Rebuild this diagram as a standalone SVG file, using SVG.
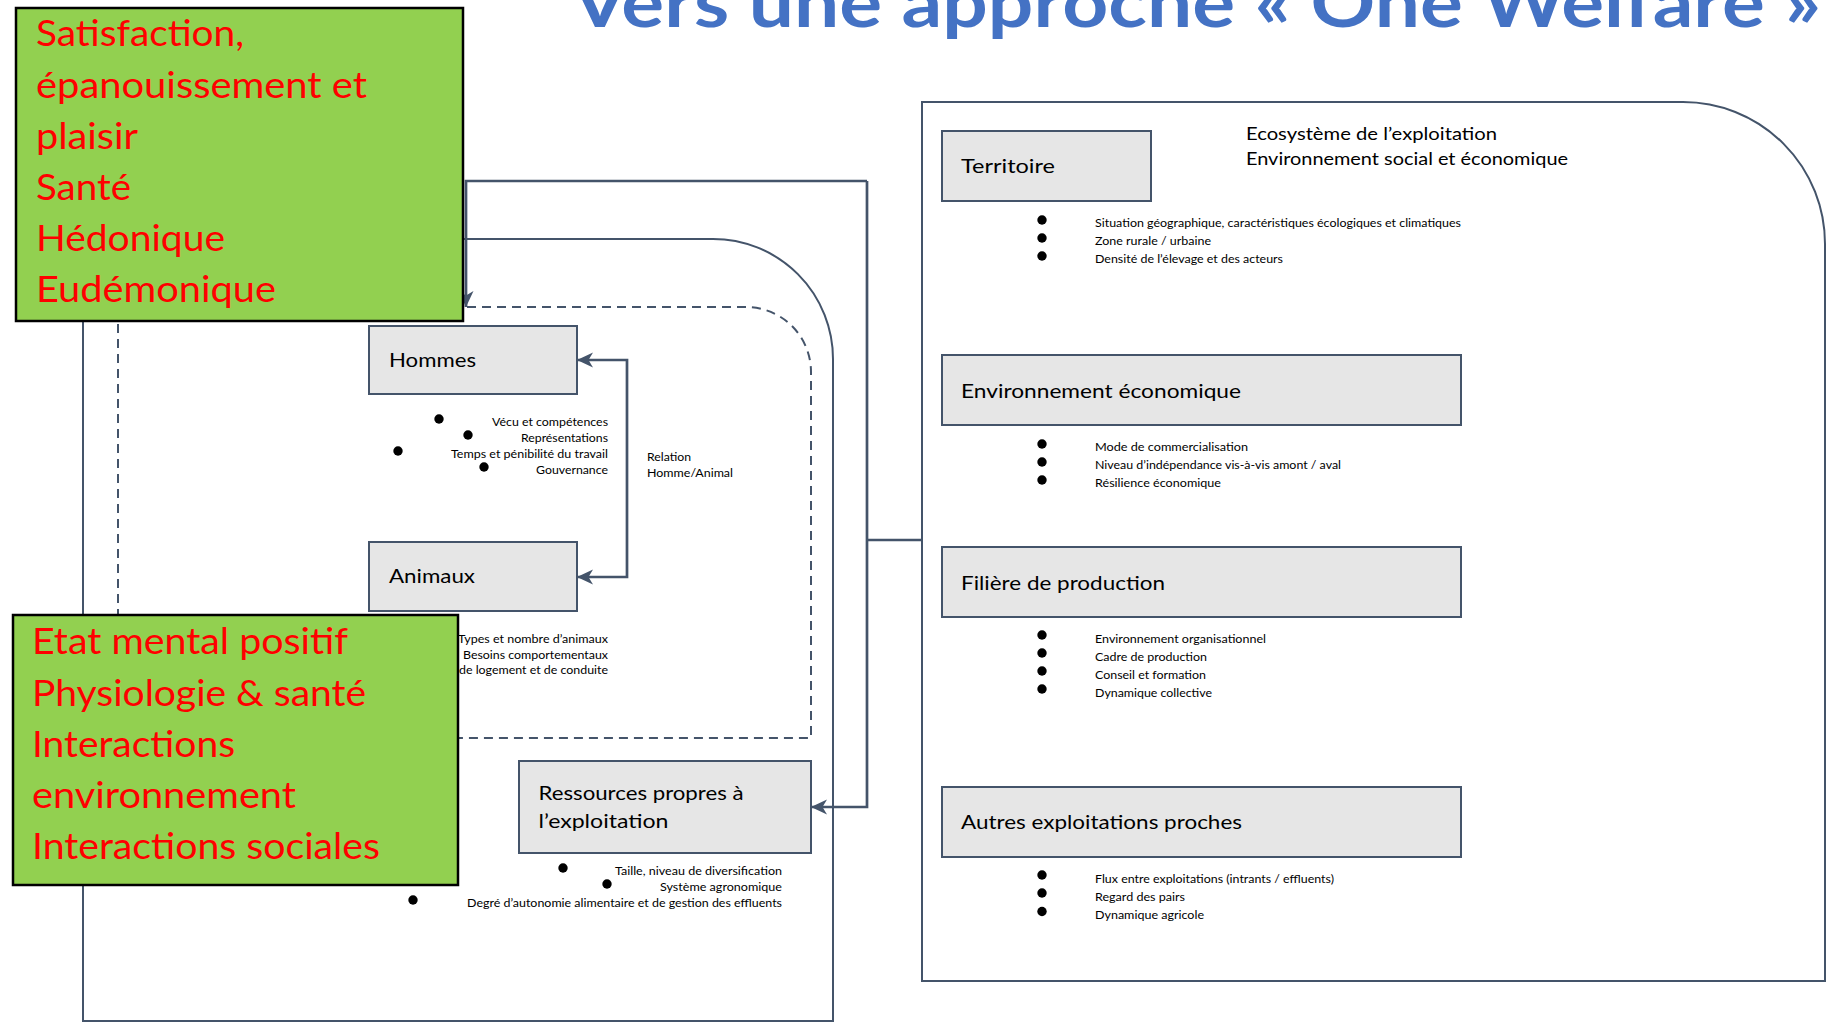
<svg xmlns="http://www.w3.org/2000/svg" width="1830" height="1024" viewBox="0 0 1830 1024">
<style>
text{font-family:Lato,"Open Sans","Liberation Sans",sans-serif;fill:#000}
.title{font-weight:bold;font-size:68px;fill:#4472C4}
.green{fill:#92D050;stroke:#000;stroke-width:2.5}
.gt{font-size:36px;fill:#FF0000}
.box{fill:#E6E6E6;stroke:#44546A;stroke-width:2}
.lbl{font-size:20px}
.mid{font-size:17px}
.sm{font-size:11.5px}
.frame{fill:none;stroke:#44546A;stroke-width:2}
.dash{fill:none;stroke:#44546A;stroke-width:2;stroke-dasharray:9 6}
.conn{fill:none;stroke:#44546A;stroke-width:2.7}
.dot{fill:#000}
</style>
<defs>
<marker id="arr" viewBox="0 -8 16 16" refX="16" refY="0" markerWidth="16" markerHeight="16" markerUnits="userSpaceOnUse" orient="auto-start-reverse">
<path d="M0,-7.5 L16,0 L0,7.5 L4.5,0 Z" fill="#44546A"/>
</marker>
</defs>

<text class="title" x="572" y="27" textLength="1249" lengthAdjust="spacingAndGlyphs">Vers une approche « One Welfare »</text>

<g id="frame-exploitation">
<path class="frame" d="M83,1021 V239 H713 A120,120 0 0 1 833,359 V1021 Z"/>
</g>
<g id="frame-relation">
<path class="dash" d="M118,738 V307 H746 A65,65 0 0 1 811,372 V738 Z"/>
</g>
<g id="frame-ecosysteme">
<path class="frame" d="M922,981 V102 H1683 A142,142 0 0 1 1825,244 V981 Z"/>
<text class="mid" x="1246" y="140" textLength="251" lengthAdjust="spacingAndGlyphs">Ecosystème de  l’exploitation</text>
<text class="mid" x="1246" y="165" textLength="322" lengthAdjust="spacingAndGlyphs">Environnement  social et économique</text>
</g>

<g id="connectors">
<path class="conn" d="M867,181 H466 V307" marker-end="url(#arr)"/>
<path class="conn" d="M867,181 V807 H811" marker-end="url(#arr)"/>
<path class="conn" d="M867,540 H922"/>
<path class="conn" d="M577,360 H627 V577 H577" marker-start="url(#arr)" marker-end="url(#arr)"/>
<text class="sm" x="647" y="461" textLength="44" lengthAdjust="spacingAndGlyphs">Relation</text>
<text class="sm" x="647" y="477" textLength="86" lengthAdjust="spacingAndGlyphs">Homme/Animal</text>
</g>

<g id="hommes">
<rect class="box" x="369" y="326" width="208" height="68"/>
<text class="lbl" x="389" y="367" textLength="87" lengthAdjust="spacingAndGlyphs">Hommes</text>
<circle class="dot" cx="439" cy="419" r="4.7"/>
<circle class="dot" cx="468" cy="435" r="4.7"/>
<circle class="dot" cx="398" cy="451" r="4.7"/>
<circle class="dot" cx="484" cy="467" r="4.7"/>
<text class="sm" x="492" y="425.5" textLength="116" lengthAdjust="spacingAndGlyphs">Vécu et compétences</text>
<text class="sm" x="521" y="441.5" textLength="87" lengthAdjust="spacingAndGlyphs">Représentations</text>
<text class="sm" x="451" y="457.5" textLength="157" lengthAdjust="spacingAndGlyphs">Temps et pénibilité du travail</text>
<text class="sm" x="536" y="473.5" textLength="72" lengthAdjust="spacingAndGlyphs">Gouvernance</text>
</g>

<g id="animaux">
<rect class="box" x="369" y="542" width="208" height="69"/>
<text class="lbl" x="389" y="583" textLength="86" lengthAdjust="spacingAndGlyphs">Animaux</text>
<text class="sm" x="458" y="642.5" textLength="150" lengthAdjust="spacingAndGlyphs">Types et nombre d’animaux</text>
<text class="sm" x="463" y="658.5" textLength="145" lengthAdjust="spacingAndGlyphs">Besoins comportementaux</text>
<text class="sm" x="459" y="674" textLength="149" lengthAdjust="spacingAndGlyphs">de logement et de conduite</text>
</g>

<g id="ressources">
<rect class="box" x="519" y="761" width="292" height="92"/>
<text class="lbl" x="538.5" y="800" textLength="205" lengthAdjust="spacingAndGlyphs">Ressources propres à</text>
<text class="lbl" x="538.5" y="828" textLength="130" lengthAdjust="spacingAndGlyphs">l’exploitation</text>
<circle class="dot" cx="563" cy="868" r="4.7"/>
<circle class="dot" cx="607" cy="884" r="4.7"/>
<circle class="dot" cx="413" cy="900" r="4.7"/>
<text class="sm" x="615" y="874.5" textLength="167" lengthAdjust="spacingAndGlyphs">Taille, niveau de diversification</text>
<text class="sm" x="660" y="890.5" textLength="122" lengthAdjust="spacingAndGlyphs">Système agronomique</text>
<text class="sm" x="467" y="906.5" textLength="315" lengthAdjust="spacingAndGlyphs">Degré d’autonomie alimentaire et de gestion des effluents</text>
</g>

<g id="territoire">
<rect class="box" x="942" y="131" width="209" height="70"/>
<text class="lbl" x="961" y="173" textLength="94" lengthAdjust="spacingAndGlyphs">Territoire</text>
<circle class="dot" cx="1042" cy="220" r="4.7"/>
<circle class="dot" cx="1042" cy="238" r="4.7"/>
<circle class="dot" cx="1042" cy="256" r="4.7"/>
<text class="sm" x="1095" y="226.5" textLength="366" lengthAdjust="spacingAndGlyphs">Situation géographique, caractéristiques écologiques et climatiques</text>
<text class="sm" x="1095" y="245" textLength="116" lengthAdjust="spacingAndGlyphs">Zone rurale / urbaine</text>
<text class="sm" x="1095" y="262.5" textLength="188" lengthAdjust="spacingAndGlyphs">Densité de l’élevage et des acteurs</text>
</g>

<g id="environnement-economique">
<rect class="box" x="942" y="355" width="519" height="70"/>
<text class="lbl" x="961" y="398" textLength="280" lengthAdjust="spacingAndGlyphs">Environnement économique</text>
<circle class="dot" cx="1042" cy="444" r="4.7"/>
<circle class="dot" cx="1042" cy="462" r="4.7"/>
<circle class="dot" cx="1042" cy="480" r="4.7"/>
<text class="sm" x="1095" y="450.5" textLength="153" lengthAdjust="spacingAndGlyphs">Mode de commercialisation</text>
<text class="sm" x="1095" y="469" textLength="246" lengthAdjust="spacingAndGlyphs">Niveau d’indépendance vis-à-vis amont / aval</text>
<text class="sm" x="1095" y="486.5" textLength="126" lengthAdjust="spacingAndGlyphs">Résilience économique</text>
</g>

<g id="filiere">
<rect class="box" x="942" y="547" width="519" height="70"/>
<text class="lbl" x="961" y="590" textLength="204" lengthAdjust="spacingAndGlyphs">Filière de production</text>
<circle class="dot" cx="1042" cy="635" r="4.7"/>
<circle class="dot" cx="1042" cy="653" r="4.7"/>
<circle class="dot" cx="1042" cy="671" r="4.7"/>
<circle class="dot" cx="1042" cy="689" r="4.7"/>
<text class="sm" x="1095" y="642.5" textLength="171" lengthAdjust="spacingAndGlyphs">Environnement organisationnel</text>
<text class="sm" x="1095" y="660.5" textLength="112" lengthAdjust="spacingAndGlyphs">Cadre de production</text>
<text class="sm" x="1095" y="678.5" textLength="111" lengthAdjust="spacingAndGlyphs">Conseil et formation</text>
<text class="sm" x="1095" y="696.5" textLength="117" lengthAdjust="spacingAndGlyphs">Dynamique collective</text>
</g>

<g id="autres-exploitations">
<rect class="box" x="942" y="787" width="519" height="70"/>
<text class="lbl" x="961" y="829" textLength="281" lengthAdjust="spacingAndGlyphs">Autres exploitations proches</text>
<circle class="dot" cx="1042" cy="875" r="4.7"/>
<circle class="dot" cx="1042" cy="893" r="4.7"/>
<circle class="dot" cx="1042" cy="911.5" r="4.7"/>
<text class="sm" x="1095" y="882.5" textLength="239" lengthAdjust="spacingAndGlyphs">Flux entre exploitations (intrants / effluents)</text>
<text class="sm" x="1095" y="900.5" textLength="90" lengthAdjust="spacingAndGlyphs">Regard des pairs</text>
<text class="sm" x="1095" y="918.5" textLength="109" lengthAdjust="spacingAndGlyphs">Dynamique agricole</text>
</g>

<g id="bien-etre-humain">
<rect class="green" x="16" y="8" width="447" height="313"/>
<text class="gt" x="36" y="46" textLength="208" lengthAdjust="spacingAndGlyphs">Satisfaction,</text>
<text class="gt" x="36" y="97.5" textLength="331" lengthAdjust="spacingAndGlyphs">épanouissement et</text>
<text class="gt" x="36" y="148.5" textLength="102" lengthAdjust="spacingAndGlyphs">plaisir</text>
<text class="gt" x="36" y="200" textLength="95" lengthAdjust="spacingAndGlyphs">Santé</text>
<text class="gt" x="36" y="251" textLength="189" lengthAdjust="spacingAndGlyphs">Hédonique</text>
<text class="gt" x="36" y="302" textLength="240" lengthAdjust="spacingAndGlyphs">Eudémonique</text>
</g>

<g id="bien-etre-animal">
<rect class="green" x="13" y="615" width="445" height="270"/>
<text class="gt" x="32" y="654" textLength="316" lengthAdjust="spacingAndGlyphs">Etat mental positif</text>
<text class="gt" x="32" y="705.5" textLength="334" lengthAdjust="spacingAndGlyphs">Physiologie &amp; santé</text>
<text class="gt" x="32" y="756.5" textLength="203" lengthAdjust="spacingAndGlyphs">Interactions</text>
<text class="gt" x="32" y="808" textLength="264" lengthAdjust="spacingAndGlyphs">environnement</text>
<text class="gt" x="32" y="859" textLength="348" lengthAdjust="spacingAndGlyphs">Interactions sociales</text>
</g>
</svg>
